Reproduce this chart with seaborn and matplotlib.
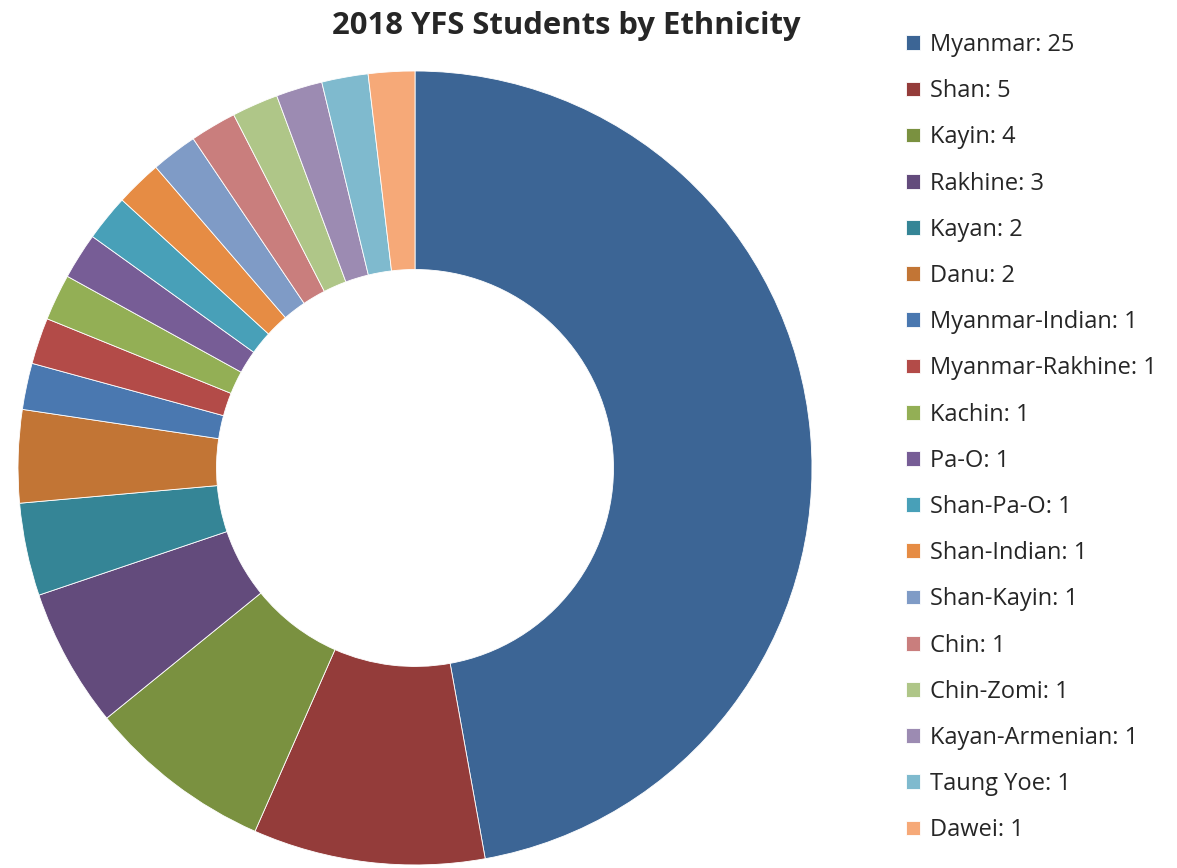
"""
2018 YFS students by ethnicity - donut chart
"""
import matplotlib
matplotlib.use("Agg")
import matplotlib.pyplot as plt
import seaborn as sns

# data
groups = ['Myanmar', 'Shan', 'Kayin', 'Rakhine', 'Kayan', 'Danu',
          'Myanmar-Indian', 'Myanmar-Rakhine', 'Kachin', 'Pa-O',
          'Shan-Pa-O', 'Shan-Indian', 'Shan-Kayin', 'Chin', 'Chin-Zomi',
          'Kayan-Armenian', 'Taung Yoe', 'Dawei']
counts = [25, 5, 4, 3, 2, 2, 1, 1, 1, 1, 1, 1, 1, 1, 1, 1, 1, 1]
hex_colors = ['#3C6595', '#943C3A', '#7A9140', '#634B7C', '#358596', '#C27535',
              '#4A78B0', '#B34B48', '#93AF55', '#775D96', '#48A0B8', '#E68C44',
              '#7F9BC6', '#C97E7D', '#AFC688', '#9C8BB2', '#7FBACE', '#F6A978']

sns.set_style("white")
plt.rcParams['font.family'] = ['Open Sans', 'DejaVu Sans']
palette = sns.color_palette(hex_colors)

fig = plt.figure(figsize=(11.77, 8.68), dpi=100)
ax = fig.add_axes([0.0153, 0.0035, 0.6746, 0.9147])

wedges, _ = ax.pie(counts, colors=palette, startangle=90, counterclock=False,
                   wedgeprops=dict(width=0.5, edgecolor='white', linewidth=0.6))
ax.set_xlim(-1, 1)
ax.set_ylim(-1, 1)
ax.set_aspect('equal')
ax.axis('off')

fig.text(566 / 1177, 1 - 26 / 868, '2018 YFS Students by Ethnicity',
         ha='center', va='center', fontsize=22.3, fontweight='bold')

labels = [f'{g}: {c}' for g, c in zip(groups, counts)]
fig.legend(wedges, labels, loc='upper left', bbox_to_anchor=(906 / 1177, 1 - 33 / 868),
           frameon=False, fontsize=17, handlelength=0.58, handleheight=0.58,
           handletextpad=0.42, labelspacing=0.94, borderaxespad=0, borderpad=0)

fig.savefig('out.png', dpi=100)
